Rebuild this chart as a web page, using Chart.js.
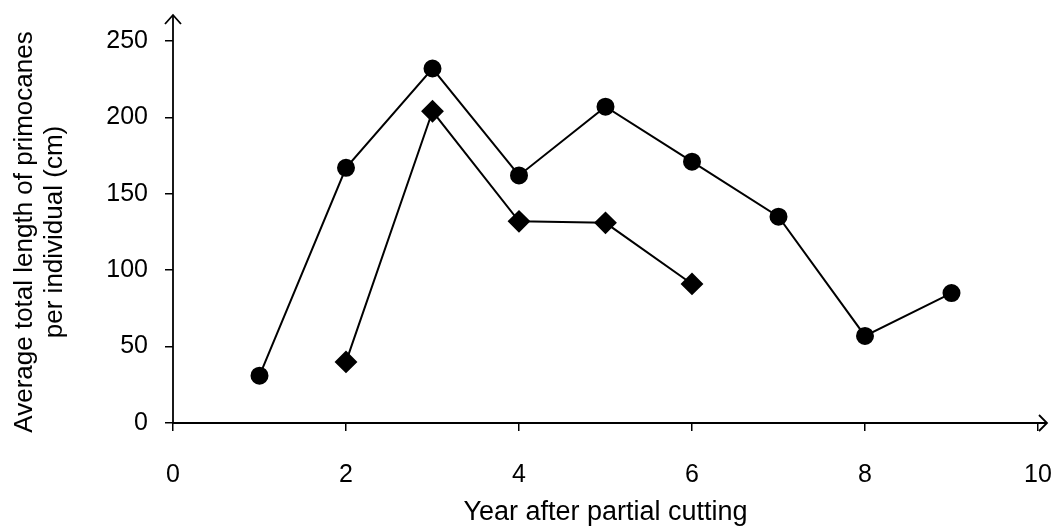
<!DOCTYPE html>
<html>
<head>
<meta charset="utf-8">
<script src="https://cdn.jsdelivr.net/npm/chart.js@4.4.1/dist/chart.umd.min.js"></script>
<style>
  html, body { margin: 0; padding: 0; background: #fff; overflow: hidden; }
  #wrap { position: absolute; left: 0; top: 0; width: 1052px; height: 526px; }
  canvas { display: block; }
</style>
</head>
<body>
<div id="wrap"><canvas id="c"></canvas></div>
<script>
const years = [1, 2, 3, 4, 5, 6, 7, 8, 9];
const circleValues = [31, 167, 232, 162, 207, 171, 135, 57, 85];
const diamondYears = [2, 3, 4, 5, 6];
const diamondValues = [40, 204, 132, 131, 91];
const xTitle = 'Year after partial cutting';
const yTitle = ['Average total length of primocanes', 'per individual (cm)'];

const FONT = "'Liberation Sans', Arial, sans-serif";

const arrowPlugin = {
  id: 'arrows',
  afterDraw(chart) {
    const ctx = chart.ctx;
    const a = chart.chartArea;
    ctx.save();
    ctx.strokeStyle = '#000';
    ctx.lineWidth = 1.8;
    ctx.lineCap = 'butt';
    // y axis
    ctx.beginPath();
    ctx.moveTo(a.left, a.bottom);
    ctx.lineTo(a.left, a.top - 26);
    ctx.stroke();
    ctx.beginPath();
    ctx.moveTo(a.left - 8, a.top - 17);
    ctx.lineTo(a.left, a.top - 26);
    ctx.lineTo(a.left + 8, a.top - 17);
    ctx.stroke();
    // x axis
    ctx.beginPath();
    ctx.moveTo(a.left - 1, a.bottom);
    ctx.lineTo(a.right + 9, a.bottom);
    ctx.stroke();
    ctx.beginPath();
    ctx.moveTo(a.right + 1, a.bottom - 8);
    ctx.lineTo(a.right + 9, a.bottom);
    ctx.lineTo(a.right + 1, a.bottom + 8);
    ctx.stroke();
    ctx.restore();
  }
};

new Chart(document.getElementById('c'), {
  type: 'scatter',
  data: {
    datasets: [
      {
        data: years.map((x, i) => ({ x, y: circleValues[i] })),
        showLine: true,
        borderColor: '#000',
        backgroundColor: '#000',
        borderWidth: 2,
        pointStyle: 'circle',
        pointRadius: 8,
        pointHoverRadius: 8
      },
      {
        data: diamondYears.map((x, i) => ({ x, y: diamondValues[i] })),
        showLine: true,
        borderColor: '#000',
        backgroundColor: '#000',
        borderWidth: 2,
        pointStyle: 'rectRot',
        pointRadius: 10,
        pointHoverRadius: 10
      }
    ]
  },
  options: {
    responsive: true,
    maintainAspectRatio: false,
    animation: false,
    layout: { padding: { left: 0, right: 14, top: 41, bottom: 0 } },
    plugins: { legend: { display: false }, tooltip: { enabled: false } },
    scales: {
      x: {
        type: 'linear',
        min: 0, max: 10,
        ticks: { stepSize: 2, color: '#000', font: { family: FONT, size: 25 }, padding: 29, maxRotation: 0 },
        grid: { drawOnChartArea: false, tickLength: 8, color: '#000', lineWidth: 1.5 },
        border: { display: false },
        title: { display: true, text: xTitle, color: '#000', font: { family: FONT, size: 27, lineHeight: 1.0 }, padding: { top: 0, bottom: 0 } },
        afterFit(scale) { scale.height = 103; scale.paddingLeft = 0; scale.paddingRight = 0; }
      },
      y: {
        type: 'linear',
        min: 0, max: 250,
        ticks: { stepSize: 50, color: '#000', font: { family: FONT, size: 25 }, padding: 17 },
        grid: { drawOnChartArea: false, tickLength: 8, color: '#000', lineWidth: 1.5 },
        border: { display: false },
        title: { display: true, text: yTitle, color: '#000', font: { family: FONT, size: 26, lineHeight: 1.15 }, padding: { top: 10, bottom: 0 } },
        afterFit(scale) { scale.width = 173; scale.paddingTop = 0; scale.paddingBottom = 0; }
      }
    }
  },
  plugins: [arrowPlugin]
});
</script>
</body>
</html>
